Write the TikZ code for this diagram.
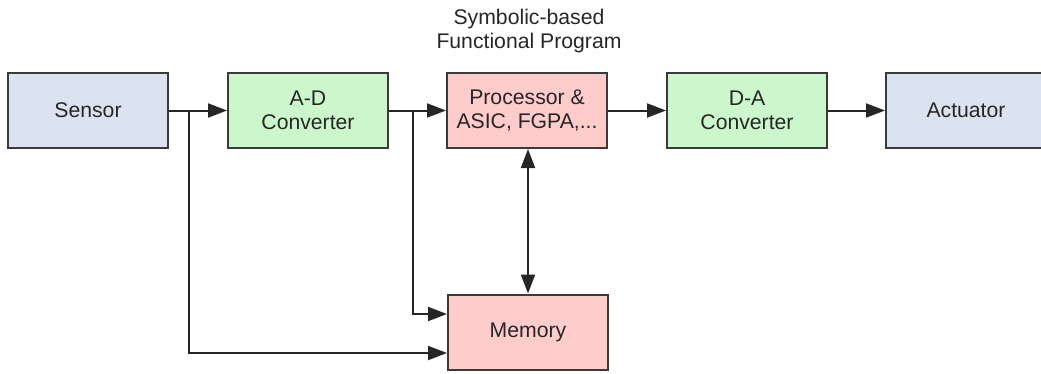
\documentclass[tikz,border=0pt]{standalone}
\usepackage{fontspec}
\setmainfont{Liberation Sans}
\usetikzlibrary{arrows.meta}
\definecolor{bluefill}{HTML}{DCE3F0}
\definecolor{greenfill}{HTML}{CCF7CC}
\definecolor{pinkfill}{HTML}{FFCCCC}
\definecolor{edge}{HTML}{3A3A3A}
\begin{document}
\begin{tikzpicture}[x=1pt,y=-1pt,
  font=\fontsize{21.2}{24.5}\selectfont,
  blk/.style={draw=edge,line width=2pt,minimum width=160pt,minimum height=75pt,align=center,inner sep=0pt,text=black!85},
  conn/.style={draw=black!85,line width=2pt,-{Triangle[length=19pt,width=14pt]}},
  twoway/.style={draw=black!85,line width=2pt,{Triangle[length=19pt,width=14pt]}-{Triangle[length=19pt,width=14pt]}}]
\useasboundingbox (0,0) rectangle (1041,373);
\clip (0,0) rectangle (1041,373);
\node[blk,fill=bluefill] (sensor) at (88,110.5) {Sensor};
\node[blk,fill=greenfill] (ad) at (308,110.5) {A-D\\Converter};
\node[blk,fill=pinkfill] (proc) at (527,110.5) {Processor \&\\ASIC, FGPA,...};
\node[blk,fill=greenfill] (da) at (747,110.5) {D-A\\Converter};
\node[blk,fill=bluefill] (act) at (966,110.5) {Actuator};
\node[blk,fill=pinkfill] (mem) at (528,332) {Memory};
\node[align=center,text=black!85] (title) at (529,31) {Symbolic-based\\Functional Program};
\coordinate (b1) at (189,110.5);
\coordinate (b2) at (413,110.5);
\draw[conn] (sensor) -- (ad);
\draw[conn] (ad) -- (proc);
\draw[conn] (proc) -- (da);
\draw[conn] (da) -- (act);
\draw[conn] (b1) |- (mem.west |- 0,353);
\draw[conn] (b2) |- (mem.west |- 0,314);
\draw[twoway] (proc.south -| mem.north) -- (mem.north);
\end{tikzpicture}
\end{document}
